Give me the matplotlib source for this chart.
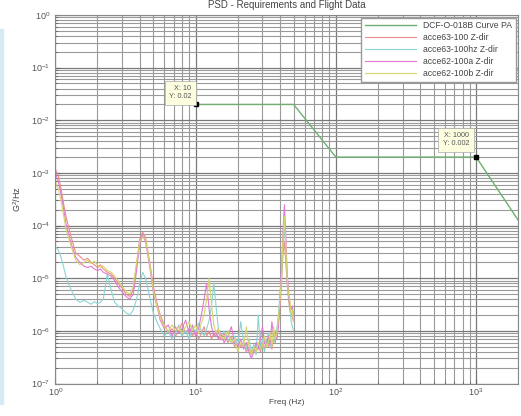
import numpy as np
import matplotlib
matplotlib.use('Agg')
import matplotlib.pyplot as plt
from matplotlib.patches import Rectangle

plt.rcParams['font.family'] = ['Liberation Sans', 'DejaVu Sans']
plt.rcParams['mathtext.fontset'] = 'custom'
plt.rcParams['mathtext.rm'] = 'Liberation Sans'

# requirement curve (DCF-O-018B Curve PA)
req_f = [10, 50, 100, 1000, 2000]
req_psd = [0.02, 0.02, 0.002, 0.002, 1.25e-4]

# flight data, common frequency axis
freq = [1.0, 1.05, 1.1, 1.15, 1.2, 1.3, 1.4, 1.5, 1.6, 1.7, 1.8, 1.9, 2.0, 2.1, 2.2,
        2.35, 2.5, 2.65, 2.8, 3.0, 3.2, 3.4, 3.6, 3.8, 4.0, 4.2, 4.4, 4.6, 4.8, 5.0,
        5.3, 5.6, 6.0, 6.4, 6.8, 7.2, 7.6, 8.0, 8.5, 9.0, 9.5, 10, 10.5, 11, 11.5,
        12, 12.5, 13, 13.5, 14, 14.5, 15,
        16, 17, 18, 19, 20, 21, 22, 23, 24, 25, 26, 27, 28, 29, 30, 31, 32, 33, 34,
        35, 36, 37, 38, 39, 40, 41, 42, 43, 44, 45, 46, 47, 48, 49, 50]

acc63_100 = [1.2e-3, 9e-4, 5e-4, 2.5e-4, 1.4e-4, 6e-5, 3e-5, 2.6e-5, 2.2e-5, 2.4e-5, 2e-5, 1.8e-5, 1.6e-5, 1.8e-5, 1.5e-5,
             1.3e-5, 1.2e-5, 1.0e-5, 8e-6, 6.5e-6, 5e-6, 4.5e-6, 6e-6, 1.8e-5, 5.5e-5, 7.5e-5, 6e-5, 3e-5, 1.5e-5, 7e-6,
             3.5e-6, 2e-6, 1.3e-6, 9e-7, 1.1e-6, 8e-7, 1.0e-6, 1.4e-6, 9e-7, 1.1e-6, 8e-7, 1.0e-6, 7e-7, 9e-7, 1.2e-6,
             8e-7, 1.0e-6, 7e-7, 9e-7, 8e-7, 1.1e-6, 7e-7,
             9e-7, 6e-7, 8e-7, 5e-7, 7e-7, 5e-7, 6e-7, 4e-7, 5e-7, 3.5e-7, 4.5e-7, 3.8e-7, 5.5e-7, 4e-7, 6e-7, 4.5e-7,
             7e-7, 5e-7, 6e-7, 4.5e-7, 7e-7, 6e-7, 9e-7, 1.5e-6, 3e-6, 8e-6, 3e-5, 5e-5, 2e-5, 8e-6, 4e-6, 2.5e-6,
             2e-6, 1.8e-6, 1.5e-6]

acc63_100hz = [4e-5, 3.5e-5, 2.5e-5, 1.6e-5, 1e-5, 6e-6, 4e-6, 3.5e-6, 3.8e-6, 3.5e-6, 3.2e-6, 3.6e-6, 3.3e-6, 3.5e-6, 4e-6,
               1.2e-5, 6e-6, 3.5e-6, 3e-6, 2.6e-6, 2.2e-6, 2e-6, 2.5e-6, 4e-6, 8e-6, 1.3e-5, 1e-5, 6e-6, 3.5e-6, 2.2e-6,
               1.5e-6, 1.1e-6, 8e-7, 1e-6, 7e-7, 9e-7, 1.3e-6, 8e-7, 1.0e-6, 7e-7, 1.2e-6, 9e-7, 1.4e-6, 1e-6, 8e-7,
               1.1e-6, 1.6e-6, 3e-6, 8e-6, 3e-6, 1.2e-6, 8e-7,
               1e-6, 7e-7, 6e-7, 8e-7, 5e-7, 1.5e-6, 6e-7, 4.5e-7, 7e-7, 4e-7, 5.5e-7, 3.5e-7, 2e-6, 5e-7, 7e-7, 4e-7,
               6e-7, 9e-7, 5e-7, 7e-7, 6e-7, 8e-7, 1.1e-6, 2e-6, 5e-6, 1.2e-5, 4e-5, 1.2e-4, 3e-5, 1e-5, 5e-6, 3e-6,
               1.5e-6, 1.2e-6, 1e-6]

acc62_100a = [1.0e-3, 7e-4, 4e-4, 2e-4, 1e-4, 4.5e-5, 2.5e-5, 2e-5, 1.7e-5, 1.6e-5, 1.7e-5, 1.5e-5, 1.4e-5, 1.5e-5, 1.3e-5,
              1.2e-5, 1.1e-5, 9e-6, 7e-6, 5.5e-6, 4.5e-6, 4e-6, 5e-6, 1.4e-5, 4.5e-5, 6.5e-5, 5e-5, 2.5e-5, 1.2e-5, 5.5e-6,
              3e-6, 1.6e-6, 1.1e-6, 1.3e-6, 8e-7, 1.2e-6, 9e-7, 1.1e-6, 1.6e-6, 9e-7, 1.3e-6, 8e-7, 1.1e-6, 2e-6, 4e-6,
              8e-6, 2.5e-6, 1.2e-6, 8e-7, 1.0e-6, 7e-7, 9e-7,
              6e-7, 8e-7, 1.2e-6, 6e-7, 5e-7, 7e-7, 4.5e-7, 6e-7, 4e-7, 3e-7, 4e-7, 6e-7, 4.5e-7, 7e-7, 1.2e-6, 6e-7,
              5e-7, 8e-7, 5.5e-7, 1.5e-6, 8e-7, 1e-6, 7e-7, 1.2e-6, 4e-6, 1.5e-5, 8e-5, 2.5e-4, 6e-5, 1.2e-5, 6e-6, 3e-6,
              2.5e-6, 3e-6, 2e-6]

acc62_100b = [7e-4, 5e-4, 3e-4, 1.5e-4, 8e-5, 4e-5, 2.2e-5, 1.8e-5, 2e-5, 2.2e-5, 1.9e-5, 2.1e-5, 1.8e-5, 1.6e-5, 1.7e-5,
              1.4e-5, 1.3e-5, 1.1e-5, 9e-6, 7e-6, 5.5e-6, 5e-6, 7e-6, 2e-5, 5e-5, 6e-5, 5.5e-5, 2.8e-5, 1.3e-5, 6e-6,
              3e-6, 1.8e-6, 1.2e-6, 1e-6, 1.3e-6, 1e-6, 1.2e-6, 9e-7, 1.2e-6, 1.5e-6, 1e-6, 1.3e-6, 9e-7, 1.4e-6, 2e-6,
              4e-6, 1e-5, 3e-6, 1.3e-6, 9e-7, 1.1e-6, 8e-7,
              7e-7, 1e-6, 6e-7, 7e-7, 4e-7, 6e-7, 5e-7, 1.2e-6, 5e-7, 3.5e-7, 5e-7, 4e-7, 6e-7, 4.5e-7, 5e-7, 8e-7,
              5e-7, 6e-7, 9e-7, 5e-7, 1.2e-6, 7e-7, 9e-7, 1.8e-6, 4e-6, 1e-5, 6e-5, 1.5e-4, 4e-5, 1e-5, 5e-6, 4e-6,
              2e-6, 2.5e-6, 1.5e-6]

labels = ['DCF-O-018B Curve PA', 'acce63-100 Z-dir', 'acce63-100hz Z-dir',
          'acce62-100a Z-dir', 'acce62-100b Z-dir']
colors = ['#6fb06f', '#ec8c8c', '#8cd4d4', '#e07ad4', '#d6d66a']

fig = plt.figure(figsize=(5.21, 4.16), dpi=100)
ax = fig.add_axes([0.106, 0.078, 0.889, 0.886])

ax.loglog(req_f, req_psd, color=colors[0], lw=1.0, label=labels[0])
series = [acc63_100, acc63_100hz, acc62_100a, acc62_100b]
for s, c, lab in zip(series, colors[1:], labels[1:]):
    ax.loglog(freq, s, color=c, lw=0.8, label=lab)

ax.set_xlim(1, 2000)
ax.set_ylim(1e-7, 1)
ax.grid(True, which='major', color='#7a7a7a', lw=0.9)
ax.grid(True, which='minor', color='#9a9a9a', lw=0.8)
ax.set_axisbelow(True)
ax.tick_params(which='both', direction='in', labelsize=6.5, colors='#666666', labelcolor='#555555')
ax.tick_params(axis='x', pad=2)
for sp in ax.spines.values():
    sp.set_color('#888888')

ax.set_title('PSD - Requirements and Flight Data', fontsize=7, color='#444444', pad=5)
ax.set_xlabel('Freq (Hz)', fontsize=6, color='#444444', labelpad=1)
ax.set_ylabel('G$^2$/Hz', fontsize=6.5, color='#444444', labelpad=6)

leg = ax.legend(loc='upper right', fontsize=6.2, fancybox=False, framealpha=1,
                edgecolor='#999999', handlelength=6, borderaxespad=0.3, labelspacing=0.35)
for t in leg.get_texts():
    t.set_color('#444444')

# data tips
tips = [(10, 0.02, 'X: 10\nY: 0.02', (-3, 3)), (1000, 0.002, 'X: 1000\nY: 0.002', (-5, 7))]
for x, y, txt, off in tips:
    ax.plot(x, y, 's', color='black', ms=3)
    ax.annotate(txt, xy=(x, y), xytext=off, textcoords='offset points', fontsize=5.2,
                ha='right', va='bottom', color='#555555',
                bbox=dict(boxstyle='square,pad=0.6', fc='#fdfde0', ec='#aaaaaa', lw=0.5))

fig.patches.append(Rectangle((0, 0.03), 0.006, 0.9, transform=fig.transFigure,
                             color='#d6eaf6', zorder=0))

fig.savefig('out.png', dpi=100)
